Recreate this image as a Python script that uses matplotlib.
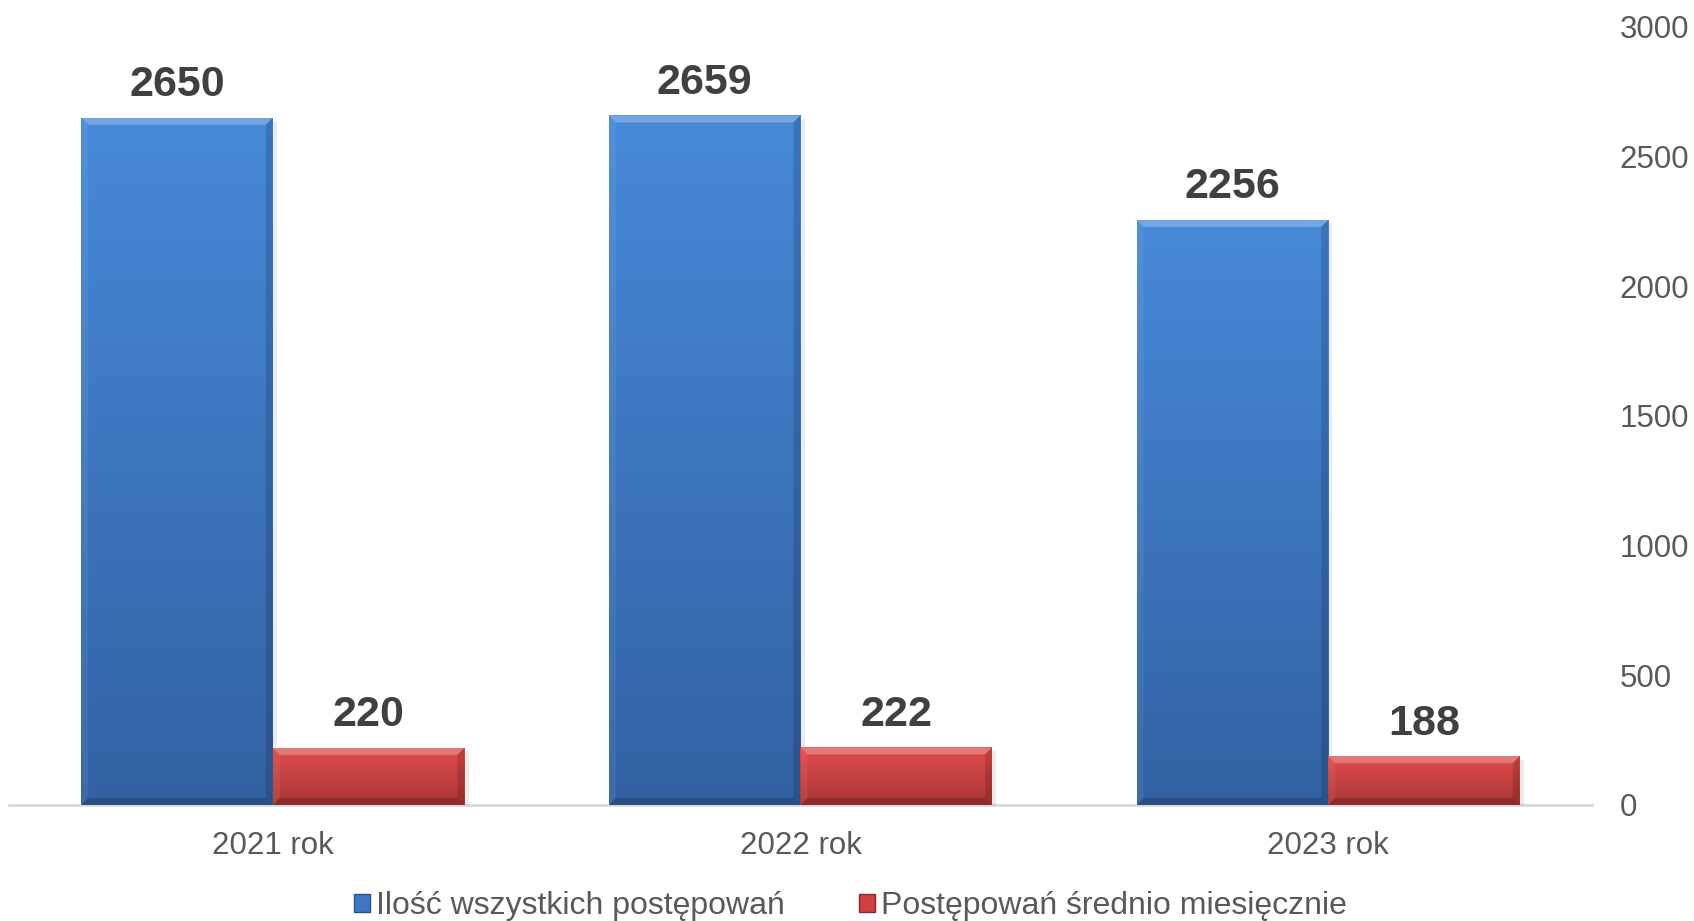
import matplotlib
matplotlib.use("Agg")
import matplotlib.pyplot as plt
import numpy as np
from matplotlib.patches import Polygon, Patch
from matplotlib.colors import LinearSegmentedColormap
from matplotlib import font_manager

categories = ["2021 rok", "2022 rok", "2023 rok"]
series_names = ["Ilość wszystkich postępowań", "Postępowań średnio miesięcznie"]
total_values = [2650, 2659, 2256]
monthly_values = [220, 222, 188]
y_ticks = [0, 500, 1000, 1500, 2000, 2500, 3000]

plt.rcParams['font.family'] = ['Liberation Sans', 'DejaVu Sans']

names = {f.name for f in font_manager.fontManager.ttflist}
legend_family = 'Liberation Sans Narrow' if 'Liberation Sans Narrow' in names else 'Liberation Sans'

fig = plt.figure(figsize=(16.94, 9.21), dpi=100)
ax = fig.add_axes([0.0053, 0.126, 0.9345, 0.8447])

x = np.arange(len(categories))
w = 0.363
blue_top, blue_bot = "#4789d9", "#3262a3"
red_top, red_bot = "#e04c4c", "#ab3737"

ax.set_xlim(-0.5, len(categories) - 0.5)
ax.set_ylim(0, 3000)

bars_blue = ax.bar(x - w / 2, total_values, width=w, color=blue_top, zorder=2)
bars_red = ax.bar(x + w / 2, monthly_values, width=w, color=red_top, zorder=2)

fig.canvas.draw()
ax_bbox = ax.get_window_extent()
px_x = (ax.get_xlim()[1] - ax.get_xlim()[0]) / ax_bbox.width
px_y = (ax.get_ylim()[1] - ax.get_ylim()[0]) / ax_bbox.height
b = 7
dx, dy = b * px_x, b * px_y


def decorate(bars, top, bot):
    cmap = LinearSegmentedColormap.from_list("g", [bot, top])
    grad = np.linspace(0, 1, 256).reshape(-1, 1)
    for bar in bars:
        x0 = bar.get_x()
        x1 = x0 + bar.get_width()
        h = bar.get_height()
        sh = Polygon([(x0 + 0.5 * dx, 0), (x1 + 0.6 * dx, 0), (x1 + 0.6 * dx, h - 0.5 * dy),
                      (x0 + 0.5 * dx, h - 0.5 * dy)], closed=True, facecolor="black",
                     alpha=0.08, edgecolor="none", zorder=1.5)
        ax.add_patch(sh)
        im = ax.imshow(grad, cmap=cmap, origin="lower", extent=[x0, x1, 0, h],
                       aspect="auto", zorder=2.1, interpolation="bicubic")
        im.set_clip_path(bar)
        polys = [
            ([(x0, h), (x1, h), (x1 - dx, h - dy), (x0 + dx, h - dy)], "white", 0.25),
            ([(x0, h), (x0 + dx, h - dy), (x0 + dx, dy), (x0, 0)], "white", 0.06),
            ([(x1, h), (x1 - dx, h - dy), (x1 - dx, dy), (x1, 0)], "black", 0.15),
            ([(x0, 0), (x0 + dx, dy), (x1 - dx, dy), (x1, 0)], "black", 0.2),
        ]
        for pts, c, a in polys:
            ax.add_patch(Polygon(pts, closed=True, facecolor=c, alpha=a,
                                 edgecolor="none", zorder=2.2))
        ax.annotate(f"{int(h)}", (x0 + (x1 - x0) / 2, h), xytext=(0, 9),
                    textcoords="offset points", ha="center", va="bottom",
                    fontsize=31, fontweight="bold", color="#404040", zorder=3)


decorate(bars_blue, blue_top, blue_bot)
decorate(bars_red, red_top, red_bot)

ax.set_xlim(-0.5, len(categories) - 0.5)
ax.set_ylim(0, 3000)

ax.yaxis.tick_right()
ax.set_yticks(y_ticks)
ax.set_yticklabels([str(v) for v in y_ticks])
ax.tick_params(axis="y", length=0, pad=20, labelsize=22.5, labelcolor="#595959")
for lab in ax.get_yticklabels():
    lab.set_horizontalalignment("left")
ax.set_xticks(x)
ax.set_xticklabels(categories)
ax.tick_params(axis="x", length=0, pad=19, labelsize=22.5, labelcolor="#595959")

for s in ["top", "left", "right"]:
    ax.spines[s].set_visible(False)
ax.spines["bottom"].set_color("#d9d9d9")
ax.spines["bottom"].set_linewidth(2)
ax.spines["bottom"].set_zorder(1)

handles = [Patch(facecolor="#3e78c4", edgecolor="#25508a", linewidth=1),
           Patch(facecolor="#d04040", edgecolor="#8a2828", linewidth=1)]
fig.legend(handles, series_names, loc="center", bbox_to_anchor=(0.502, 0.016),
           ncol=2, frameon=False, handlelength=0.5, handleheight=0.5,
           handletextpad=0.2, columnspacing=2.3,
           prop={"family": legend_family, "size": 23}, labelcolor="#595959")

fig.savefig("out.png", dpi=100)
